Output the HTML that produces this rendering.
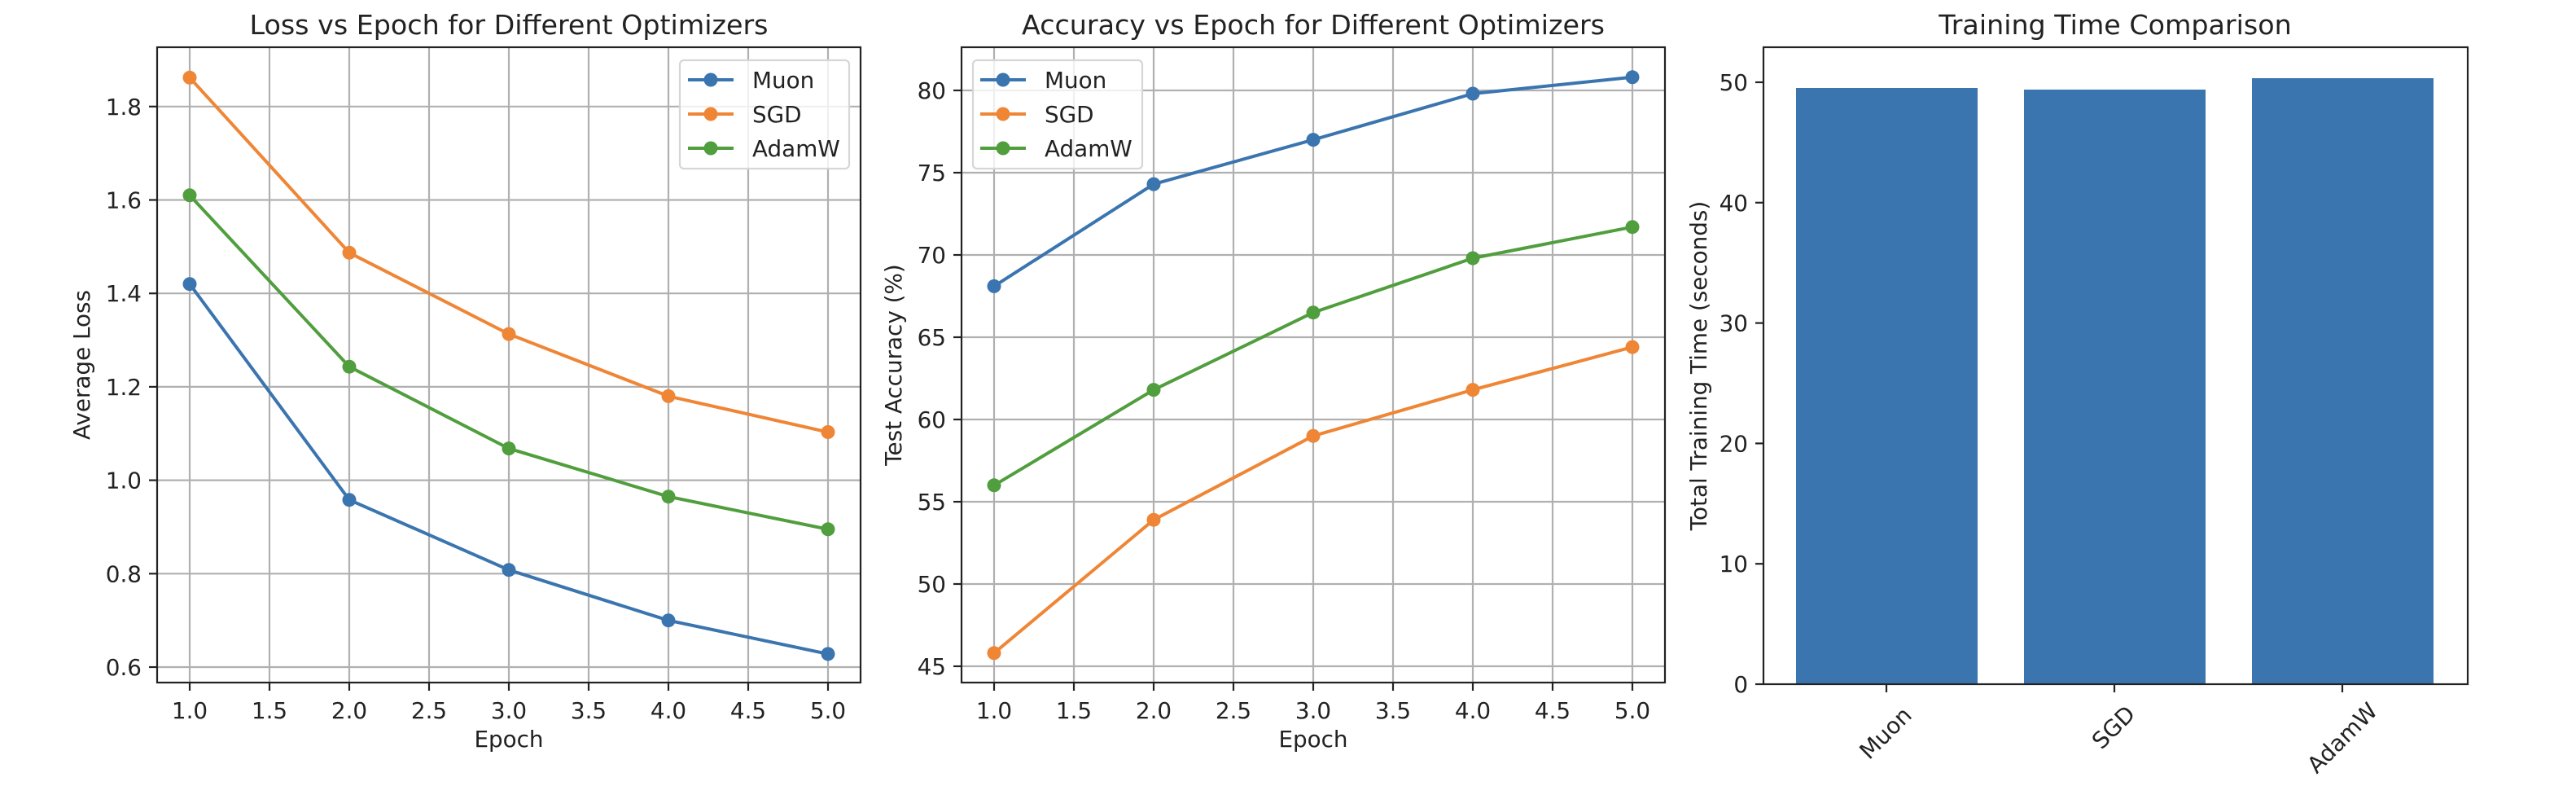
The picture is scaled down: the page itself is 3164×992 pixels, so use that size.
<!DOCTYPE html>
<html><head><meta charset="utf-8"><style>
html,body{margin:0;padding:0;background:#fff;}
svg{display:block;font-family:"DejaVu Sans","Liberation Sans",sans-serif;}
</style></head><body>
<svg width="3164" height="992" viewBox="0 0 3164 992" xmlns="http://www.w3.org/2000/svg">
<rect width="3164" height="992" fill="#fff"/>
<!-- ===== Plot 1 ===== -->
<g stroke="#b0b0b0" stroke-width="2.2">
<line x1="233" y1="58" x2="233" y2="838"/><line x1="331" y1="58" x2="331" y2="838"/><line x1="429" y1="58" x2="429" y2="838"/><line x1="527" y1="58" x2="527" y2="838"/><line x1="625" y1="58" x2="625" y2="838"/><line x1="723" y1="58" x2="723" y2="838"/><line x1="821" y1="58" x2="821" y2="838"/><line x1="919" y1="58" x2="919" y2="838"/><line x1="1017" y1="58" x2="1017" y2="838"/>
<line x1="193" y1="819" x2="1057" y2="819"/><line x1="193" y1="704.3" x2="1057" y2="704.3"/><line x1="193" y1="589.6" x2="1057" y2="589.6"/><line x1="193" y1="474.9" x2="1057" y2="474.9"/><line x1="193" y1="360.2" x2="1057" y2="360.2"/><line x1="193" y1="245.5" x2="1057" y2="245.5"/><line x1="193" y1="130.8" x2="1057" y2="130.8"/>
</g>
<g fill="none" stroke-width="4" stroke-linejoin="round">
<polyline stroke="#3b75af" points="233,348.7 429,613.7 625,699.7 821,761.7 1017,802.9"/>
<polyline stroke="#ef8636" points="233,95.3 429,310.3 625,410.1 821,486.4 1017,530.5"/>
<polyline stroke="#519e3e" points="233,239.8 429,450.2 625,550.6 821,609.7 1017,649.8"/>
</g>
<g fill="#3b75af"><circle cx="233" cy="348.7" r="8.5"/><circle cx="429" cy="613.7" r="8.5"/><circle cx="625" cy="699.7" r="8.5"/><circle cx="821" cy="761.7" r="8.5"/><circle cx="1017" cy="802.9" r="8.5"/></g>
<g fill="#ef8636"><circle cx="233" cy="95.3" r="8.5"/><circle cx="429" cy="310.3" r="8.5"/><circle cx="625" cy="410.1" r="8.5"/><circle cx="821" cy="486.4" r="8.5"/><circle cx="1017" cy="530.5" r="8.5"/></g>
<g fill="#519e3e"><circle cx="233" cy="239.8" r="8.5"/><circle cx="429" cy="450.2" r="8.5"/><circle cx="625" cy="550.6" r="8.5"/><circle cx="821" cy="609.7" r="8.5"/><circle cx="1017" cy="649.8" r="8.5"/></g>
<rect x="193" y="58" width="864" height="780" fill="none" stroke="#222" stroke-width="2.2"/>
<g stroke="#222" stroke-width="2.2">
<line x1="233" y1="838" x2="233" y2="848"/><line x1="331" y1="838" x2="331" y2="848"/><line x1="429" y1="838" x2="429" y2="848"/><line x1="527" y1="838" x2="527" y2="848"/><line x1="625" y1="838" x2="625" y2="848"/><line x1="723" y1="838" x2="723" y2="848"/><line x1="821" y1="838" x2="821" y2="848"/><line x1="919" y1="838" x2="919" y2="848"/><line x1="1017" y1="838" x2="1017" y2="848"/>
<line x1="183" y1="819" x2="193" y2="819"/><line x1="183" y1="704.3" x2="193" y2="704.3"/><line x1="183" y1="589.6" x2="193" y2="589.6"/><line x1="183" y1="474.9" x2="193" y2="474.9"/><line x1="183" y1="360.2" x2="193" y2="360.2"/><line x1="183" y1="245.5" x2="193" y2="245.5"/><line x1="183" y1="130.8" x2="193" y2="130.8"/>
</g>
<g font-size="27.8" fill="#222" text-anchor="middle">
<text x="233" y="882">1.0</text><text x="331" y="882">1.5</text><text x="429" y="882">2.0</text><text x="527" y="882">2.5</text><text x="625" y="882">3.0</text><text x="723" y="882">3.5</text><text x="821" y="882">4.0</text><text x="919" y="882">4.5</text><text x="1017" y="882">5.0</text>
</g>
<g font-size="27.8" fill="#222" text-anchor="end">
<text x="174" y="829">0.6</text><text x="174" y="714.3">0.8</text><text x="174" y="599.6">1.0</text><text x="174" y="484.9">1.2</text><text x="174" y="370.2">1.4</text><text x="174" y="255.5">1.6</text><text x="174" y="140.8">1.8</text>
</g>
<text x="625" y="917" font-size="27.8" fill="#222" text-anchor="middle">Epoch</text>
<text transform="translate(110,448) rotate(-90)" font-size="27.8" fill="#222" text-anchor="middle">Average Loss</text>
<text x="625" y="42" font-size="33.3" fill="#222" text-anchor="middle">Loss vs Epoch for Different Optimizers</text>
<rect x="835" y="74" width="208" height="133" rx="5" fill="#fff" fill-opacity="0.8" stroke="#d6d6d6" stroke-width="2.2"/>
<g stroke-width="4"><line x1="845" y1="98" x2="901" y2="98" stroke="#3b75af"/><line x1="845" y1="140" x2="901" y2="140" stroke="#ef8636"/><line x1="845" y1="182" x2="901" y2="182" stroke="#519e3e"/></g>
<circle cx="873" cy="98" r="8.5" fill="#3b75af"/><circle cx="873" cy="140" r="8.5" fill="#ef8636"/><circle cx="873" cy="182" r="8.5" fill="#519e3e"/>
<g font-size="27.8" fill="#222"><text x="924" y="108">Muon</text><text x="924" y="150">SGD</text><text x="924" y="192">AdamW</text></g>

<!-- ===== Plot 2 ===== -->
<g stroke="#b0b0b0" stroke-width="2.2">
<line x1="1221" y1="58" x2="1221" y2="838"/><line x1="1319" y1="58" x2="1319" y2="838"/><line x1="1417" y1="58" x2="1417" y2="838"/><line x1="1515" y1="58" x2="1515" y2="838"/><line x1="1613" y1="58" x2="1613" y2="838"/><line x1="1711" y1="58" x2="1711" y2="838"/><line x1="1809" y1="58" x2="1809" y2="838"/><line x1="1907" y1="58" x2="1907" y2="838"/><line x1="2005" y1="58" x2="2005" y2="838"/>
<line x1="1181" y1="818" x2="2045" y2="818"/><line x1="1181" y1="717" x2="2045" y2="717"/><line x1="1181" y1="616" x2="2045" y2="616"/><line x1="1181" y1="515" x2="2045" y2="515"/><line x1="1181" y1="414" x2="2045" y2="414"/><line x1="1181" y1="313" x2="2045" y2="313"/><line x1="1181" y1="212" x2="2045" y2="212"/><line x1="1181" y1="111" x2="2045" y2="111"/>
</g>
<g fill="none" stroke-width="4" stroke-linejoin="round">
<polyline stroke="#3b75af" points="1221,351.4 1417,226.1 1613,171.6 1809,115 2005,94.8"/>
<polyline stroke="#ef8636" points="1221,801.8 1417,638.2 1613,535.2 1809,478.6 2005,426.1"/>
<polyline stroke="#519e3e" points="1221,595.8 1417,478.6 1613,383.7 1809,317 2005,278.7"/>
</g>
<g fill="#3b75af"><circle cx="1221" cy="351.4" r="8.5"/><circle cx="1417" cy="226.1" r="8.5"/><circle cx="1613" cy="171.6" r="8.5"/><circle cx="1809" cy="115" r="8.5"/><circle cx="2005" cy="94.8" r="8.5"/></g>
<g fill="#ef8636"><circle cx="1221" cy="801.8" r="8.5"/><circle cx="1417" cy="638.2" r="8.5"/><circle cx="1613" cy="535.2" r="8.5"/><circle cx="1809" cy="478.6" r="8.5"/><circle cx="2005" cy="426.1" r="8.5"/></g>
<g fill="#519e3e"><circle cx="1221" cy="595.8" r="8.5"/><circle cx="1417" cy="478.6" r="8.5"/><circle cx="1613" cy="383.7" r="8.5"/><circle cx="1809" cy="317" r="8.5"/><circle cx="2005" cy="278.7" r="8.5"/></g>
<rect x="1181" y="58" width="864" height="780" fill="none" stroke="#222" stroke-width="2.2"/>
<g stroke="#222" stroke-width="2.2">
<line x1="1221" y1="838" x2="1221" y2="848"/><line x1="1319" y1="838" x2="1319" y2="848"/><line x1="1417" y1="838" x2="1417" y2="848"/><line x1="1515" y1="838" x2="1515" y2="848"/><line x1="1613" y1="838" x2="1613" y2="848"/><line x1="1711" y1="838" x2="1711" y2="848"/><line x1="1809" y1="838" x2="1809" y2="848"/><line x1="1907" y1="838" x2="1907" y2="848"/><line x1="2005" y1="838" x2="2005" y2="848"/>
<line x1="1171" y1="818" x2="1181" y2="818"/><line x1="1171" y1="717" x2="1181" y2="717"/><line x1="1171" y1="616" x2="1181" y2="616"/><line x1="1171" y1="515" x2="1181" y2="515"/><line x1="1171" y1="414" x2="1181" y2="414"/><line x1="1171" y1="313" x2="1181" y2="313"/><line x1="1171" y1="212" x2="1181" y2="212"/><line x1="1171" y1="111" x2="1181" y2="111"/>
</g>
<g font-size="27.8" fill="#222" text-anchor="middle">
<text x="1221" y="882">1.0</text><text x="1319" y="882">1.5</text><text x="1417" y="882">2.0</text><text x="1515" y="882">2.5</text><text x="1613" y="882">3.0</text><text x="1711" y="882">3.5</text><text x="1809" y="882">4.0</text><text x="1907" y="882">4.5</text><text x="2005" y="882">5.0</text>
</g>
<g font-size="27.8" fill="#222" text-anchor="end">
<text x="1162" y="828">45</text><text x="1162" y="727">50</text><text x="1162" y="626">55</text><text x="1162" y="525">60</text><text x="1162" y="424">65</text><text x="1162" y="323">70</text><text x="1162" y="222">75</text><text x="1162" y="121">80</text>
</g>
<text x="1613" y="917" font-size="27.8" fill="#222" text-anchor="middle">Epoch</text>
<text transform="translate(1107,448) rotate(-90)" font-size="27.8" fill="#222" text-anchor="middle">Test Accuracy (%)</text>
<text x="1613" y="42" font-size="33.3" fill="#222" text-anchor="middle">Accuracy vs Epoch for Different Optimizers</text>
<rect x="1195" y="74" width="208" height="133" rx="5" fill="#fff" fill-opacity="0.8" stroke="#d6d6d6" stroke-width="2.2"/>
<g stroke-width="4"><line x1="1204" y1="98" x2="1260" y2="98" stroke="#3b75af"/><line x1="1204" y1="140" x2="1260" y2="140" stroke="#ef8636"/><line x1="1204" y1="182" x2="1260" y2="182" stroke="#519e3e"/></g>
<circle cx="1232" cy="98" r="8.5" fill="#3b75af"/><circle cx="1232" cy="140" r="8.5" fill="#ef8636"/><circle cx="1232" cy="182" r="8.5" fill="#519e3e"/>
<g font-size="27.8" fill="#222"><text x="1283" y="108">Muon</text><text x="1283" y="150">SGD</text><text x="1283" y="192">AdamW</text></g>

<!-- ===== Plot 3 ===== -->
<g fill="#3b75af">
<rect x="2206" y="108" width="223" height="732"/>
<rect x="2486" y="110" width="223" height="730"/>
<rect x="2766" y="96" width="223" height="744"/>
</g>
<rect x="2166" y="58" width="865" height="782" fill="none" stroke="#222" stroke-width="2.2"/>
<g stroke="#222" stroke-width="2.2">
<line x1="2317" y1="840" x2="2317" y2="850"/><line x1="2597" y1="840" x2="2597" y2="850"/><line x1="2877" y1="840" x2="2877" y2="850"/>
<line x1="2156" y1="840" x2="2166" y2="840"/><line x1="2156" y1="692.2" x2="2166" y2="692.2"/><line x1="2156" y1="544.4" x2="2166" y2="544.4"/><line x1="2156" y1="396.6" x2="2166" y2="396.6"/><line x1="2156" y1="248.8" x2="2166" y2="248.8"/><line x1="2156" y1="101" x2="2166" y2="101"/>
</g>
<g font-size="27.8" fill="#222" text-anchor="end">
<text x="2147" y="850">0</text><text x="2147" y="702.2">10</text><text x="2147" y="554.4">20</text><text x="2147" y="406.6">30</text><text x="2147" y="258.8">40</text><text x="2147" y="111">50</text>
</g>
<g font-size="27.8" fill="#222" text-anchor="middle" dominant-baseline="central">
<text transform="translate(2316,900) rotate(-45)">Muon</text>
<text transform="translate(2596,893) rotate(-45)">SGD</text>
<text transform="translate(2877,906) rotate(-45)">AdamW</text>
</g>
<text transform="translate(2096,449) rotate(-90)" font-size="27.8" fill="#222" text-anchor="middle">Total Training Time (seconds)</text>
<text x="2598" y="42" font-size="33.3" fill="#222" text-anchor="middle">Training Time Comparison</text>
</svg>
</body></html>
